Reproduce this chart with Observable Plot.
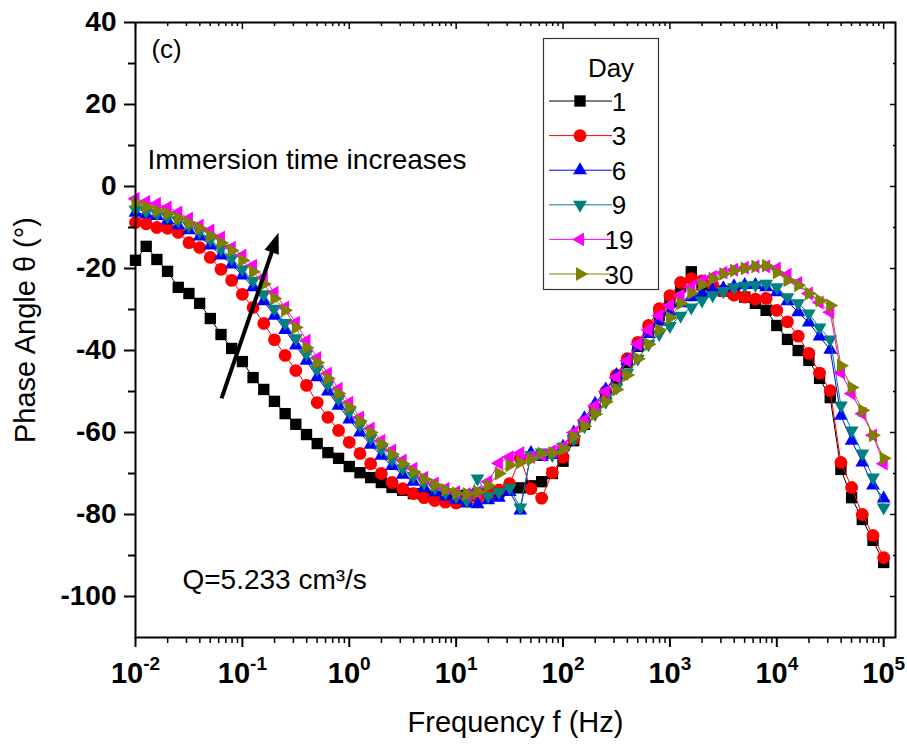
<!DOCTYPE html>
<html><head><meta charset="utf-8">
<script src="https://cdn.jsdelivr.net/npm/d3@7"></script>
<script src="https://cdn.jsdelivr.net/npm/@observablehq/plot@0.6"></script>
<style>
html,body{margin:0;padding:0;background:#fff;}
#chart{position:relative;width:907px;height:745px;}
</style></head><body><div id="chart"></div>
<script>
// ---------- data ----------
const freq = [0.01, 0.01259, 0.01585, 0.01995, 0.02512, 0.03162, 0.03981, 0.05012, 0.0631, 0.07943,
  0.1, 0.1259, 0.1585, 0.1995, 0.2512, 0.3162, 0.3981, 0.5012, 0.631, 0.7943,
  1, 1.259, 1.585, 1.995, 2.512, 3.162, 3.981, 5.012, 6.31, 7.943,
  10, 12.59, 15.85, 19.95, 25.12, 31.62, 39.81, 50.12, 63.1, 79.43,
  100, 125.9, 158.5, 199.5, 251.2, 316.2, 398.1, 501.2, 631, 794.3,
  1000, 1259, 1585, 1995, 2512, 3162, 3981, 5012, 6310, 7943,
  10000, 12590, 15850, 19950, 25120, 31620, 39810, 50120, 63100, 79430, 100000];

const day1 = [-18, -14.6, -17.8, -20.7, -24.6, -26.1, -28.5, -32.2, -36.1, -39.5, -42.7,
  -46.6, -49.5, -52.4, -55.4, -58.0, -60.5, -62.7, -64.9, -66.3, -68.3,
  -69.8, -71.0, -72.2, -73.4, -74.1, -74.9, -75.1, -75.6, -75.8, -75.5,
  -75.3, -75.0, -74.8, -74.5, -74.0, -73.5, -73.0, -72.0, -70.0, -67.0,
  -62.0, -58.0, -54.5, -51.0, -47.0, -43.0, -39.0, -35.0, -31.5, -28.0,
  -24.5, -20.8, -24.0, -25.0, -25.5, -26.0, -27.0, -28.5, -30.2, -33.9,
  -37.3, -40.0, -42.4, -46.8, -51.5, -69.0, -75.9, -81.2, -86.3, -91.7];

const day3 = [-8.8, -9.1, -10.0, -10.2, -11.2, -13.7, -14.9, -17.3, -20.2, -22.9, -26.3,
  -29.5, -33.4, -37.4, -41.2, -44.9, -48.5, -52.7, -56.3, -59.5, -62.4,
  -65.1, -67.6, -70.0, -72.2, -73.7, -74.9, -75.9, -76.6, -77.0, -77.2,
  -76.5, -75.8, -75.0, -74.0, -72.5, -66.3, -73.7, -76.0, -69.8, -66.0,
  -61.5, -57.5, -54.0, -50.0, -46.0, -42.0, -38.0, -33.9, -29.8, -26.6,
  -23.4, -22.5, -23.0, -24.0, -25.5, -26.5, -27.0, -27.5, -27.3, -30.2,
  -33.0, -36.5, -40.7, -45.5, -49.8, -67.3, -73.4, -80.0, -85.1, -90.5];

const day6 = [-6.4, -6.8, -7.2, -8.3, -9.5, -10.7, -12.2, -14.4, -16.8, -19.0, -21.7,
  -24.6, -28.0, -31.5, -35.0, -38.8, -42.5, -46.5, -50.0, -53.5, -56.8,
  -60.0, -63.0, -65.7, -68.2, -70.3, -72.0, -73.4, -74.6, -75.6, -76.4,
  -77.3, -77.5, -76.5, -75.9, -74.5, -79.0, -65.0, -66.0, -65.5, -63.5,
  -60.0, -56.5, -53.0, -49.5, -46.0, -42.5, -39.0, -36.0, -33.0, -30.5,
  -28.5, -27.0, -26.0, -25.3, -24.8, -24.3, -24.0, -24.0, -24.6, -25.8,
  -28.0, -30.7, -33.2, -36.6, -39.8, -55.9, -62.0, -67.3, -72.9, -76.1];

const day9 = [-5.6, -6.0, -6.5, -7.3, -8.3, -9.5, -10.9, -12.9, -15.2, -17.5, -20.2,
  -23.0, -26.3, -29.8, -33.3, -37.0, -40.8, -44.6, -48.3, -51.8, -55.0,
  -58.2, -61.3, -64.0, -66.6, -68.8, -70.6, -72.2, -73.5, -74.6, -75.5,
  -76.6, -71.2, -75.5, -74.5, -73.5, -78.3, -65.5, -64.9, -65.5, -63.5,
  -61.5, -58.5, -55.5, -52.5, -49.0, -45.5, -42.0, -38.5, -36.0, -34.0,
  -31.5, -29.5, -27.8, -26.5, -25.5, -24.6, -24.2, -24.0, -23.7, -24.6,
  -27.0, -28.5, -31.0, -34.4, -37.3, -53.4, -59.5, -65.1, -71.0, -78.3];

const day19 = [-3.0, -3.7, -4.2, -5.1, -6.3, -7.8, -9.5, -10.7, -12.4, -14.9, -16.8,
  -19.3, -22.2, -25.9, -29.5, -33.2, -37.6, -41.8, -45.6, -49.3, -52.7,
  -56.3, -59.0, -62.0, -64.4, -66.8, -68.8, -71.0, -72.4, -73.7, -74.5,
  -75.0, -74.5, -72.0, -67.5, -66.0, -65.0, -66.0, -65.5, -64.5, -63.5,
  -60.0, -57.0, -53.5, -50.0, -46.5, -42.5, -38.5, -35.0, -31.5, -29.0,
  -26.5, -24.5, -23.0, -22.0, -21.0, -20.3, -19.8, -19.5, -19.5, -20.0,
  -21.5, -23.5, -26.1, -28.3, -30.7, -45.4, -50.5, -55.4, -60.7, -67.6];

const day30 = [-4.1, -5.0, -5.9, -6.6, -7.8, -9.0, -10.2, -12.0, -13.7, -15.6, -18.0,
  -20.8, -23.8, -27.3, -30.2, -34.4, -39.3, -43.0, -46.8, -50.5, -53.8,
  -57.2, -60.0, -62.8, -65.3, -67.6, -69.6, -71.4, -72.8, -74.0, -74.8,
  -75.0, -74.5, -73.0, -70.0, -68.0, -67.3, -66.5, -65.1, -65.0, -64.0,
  -61.0, -58.5, -55.5, -52.5, -49.5, -46.0, -42.0, -38.5, -35.0, -32.0,
  -28.5, -26.0, -24.0, -22.5, -21.3, -20.5, -20.0, -19.5, -19.3, -21.0,
  -22.9, -24.1, -26.1, -27.8, -29.0, -43.7, -49.0, -54.6, -60.7, -66.3];

const days = ["1", "3", "6", "9", "19", "30"];
const seriesColors = ["#000000", "#ff0000", "#0000ff", "#008080", "#ff00ff", "#808000"];
const yTicks = [-100, -80, -60, -40, -20, 0, 20, 40];
const yMinorTicks = [-90, -70, -50, -30, -10, 10, 30];
const xTicks = [1e-2, 1e-1, 1e0, 1e1, 1e2, 1e3, 1e4, 1e5];
const xExponents = [-2, -1, 0, 1, 2, 3, 4, 5];
const xMinorTicks = xTicks.slice(0, -1).flatMap(d => [2, 3, 4, 5, 6, 7, 8, 9].map(m => m * d));

const annotations = [
  {f: 0.0141, theta: 33.3, label: "(c)", size: 26},
  {f: 0.01294, theta: 6.4, label: "Immersion time increases", size: 28},
  {f: 0.0275, theta: -96.0, label: "Q=5.233 cm\u00b3/s", size: 28}
];
const arrowStart = {f: 0.0638, theta: -51.7};
const arrowEnd = {f: 0.218, theta: -11.2};

// ---------- helpers ----------
const series = [day1, day3, day6, day9, day19, day30];
const fontFamily = '"Liberation Sans", Arial, Helvetica, sans-serif';
const markerR = 6.4;

function tri(angle) {
  return {
    draw(ctx, size) {
      const R = Math.sqrt(size / Math.PI) * 1.25;
      for (let k = 0; k < 3; k++) {
        const a = (angle + k * 120) * Math.PI / 180;
        const x = R * Math.sin(a), y = -R * Math.cos(a);
        if (k === 0) ctx.moveTo(x, y); else ctx.lineTo(x, y);
      }
      ctx.closePath();
    }
  };
}
const seriesSymbols = ["square", "circle", tri(0), tri(180), tri(270), tri(90)];

const layout = {
  width: 907, height: 745,
  marginLeft: 135, marginRight: 12, marginTop: 22, marginBottom: 108,
  x: {type: "log", domain: [0.01, 1.29e5]},
  y: {domain: [-110, 40]},
  style: {fontFamily, background: "white", color: "black", overflow: "visible"}
};

// probe pass to get pixel scales for the arrow head orientation
const probe = Plot.plot({...layout, marks: [Plot.dot([arrowStart, arrowEnd], {x: "f", y: "theta"})]});
const sx = probe.scale("x"), sy = probe.scale("y");
const p1 = [sx.apply(arrowStart.f), sy.apply(arrowStart.theta)];
const p2 = [sx.apply(arrowEnd.f), sy.apply(arrowEnd.theta)];
const len = Math.hypot(p2[0] - p1[0], p2[1] - p1[1]);
const ux = (p2[0] - p1[0]) / len, uy = (p2[1] - p1[1]) / len;
const headLen = 21, headHalf = 7.5;
const headSymbol = {
  draw(ctx) {
    ctx.moveTo(0, 0);
    ctx.lineTo(-ux * headLen - uy * headHalf, -uy * headLen + ux * headHalf);
    ctx.lineTo(-ux * headLen + uy * headHalf, -uy * headLen - ux * headHalf);
    ctx.closePath();
  }
};
const tt = 1 - 12 / len;
const shaftEnd = {
  f: 10 ** (Math.log10(arrowStart.f) + tt * (Math.log10(arrowEnd.f) - Math.log10(arrowStart.f))),
  theta: arrowStart.theta + tt * (arrowEnd.theta - arrowStart.theta)
};

const seriesMarks = series.flatMap((vals, s) => {
  const rows = freq.map((f, i) => ({f, theta: vals[i]}));
  return [
    Plot.line(rows, {x: "f", y: "theta", stroke: seriesColors[s], strokeWidth: 1}),
    Plot.dot(rows, {x: "f", y: "theta", fill: seriesColors[s], stroke: "none", r: markerR, symbol: seriesSymbols[s]})
  ];
});

const chart = Plot.plot({
  ...layout,
  marks: [
    ...seriesMarks,
    // axes
    Plot.axisY(yTicks, {anchor: "left", tickSize: 11, tickPadding: 8, strokeWidth: 2, fontSize: 28, fontWeight: "bold", label: null, tickFormat: d => String(d)}),
    Plot.axisY(yMinorTicks, {anchor: "left", tickSize: 7, strokeWidth: 2, label: null, tickFormat: () => ""}),
    Plot.axisY(yTicks, {anchor: "right", tickSize: -6, strokeWidth: 1.5, label: null, tickFormat: () => ""}),
    Plot.axisY(yMinorTicks, {anchor: "right", tickSize: -3, strokeWidth: 1.5, label: null, tickFormat: () => ""}),
    Plot.axisX(xTicks, {anchor: "bottom", tickSize: 10, tickPadding: 15, strokeWidth: 2, fontSize: 29, fontWeight: "bold", label: null, tickFormat: d => "10^" + xExponents[xTicks.indexOf(d)]}),
    Plot.axisX(xMinorTicks, {anchor: "bottom", tickSize: 6, strokeWidth: 1.5, label: null, tickFormat: () => ""}),
    Plot.axisX(xTicks, {anchor: "top", tickSize: -6, strokeWidth: 1.5, label: null, tickFormat: () => ""}),
    Plot.axisX(xMinorTicks, {anchor: "top", tickSize: -3, strokeWidth: 1.5, label: null, tickFormat: () => ""}),
    Plot.frame({stroke: "black", strokeWidth: 2}),
    // axis titles
    Plot.text(["Frequency f (Hz)"], {frameAnchor: "bottom", dy: 94, lineAnchor: "bottom", textAnchor: "middle", fontSize: 29, text: d => d}),
    Plot.text(["Phase Angle \u03b8 (\u00b0)"], {frameAnchor: "left", dx: -101, rotate: -90, lineAnchor: "bottom", textAnchor: "middle", fontSize: 29, text: d => d}),
    // annotations
    ...annotations.map(a => Plot.text([a], {x: "f", y: "theta", text: "label", textAnchor: "start", lineAnchor: "middle", fontSize: a.size})),
    Plot.link([{a: arrowStart, b: shaftEnd}], {x1: d => d.a.f, y1: d => d.a.theta, x2: d => d.b.f, y2: d => d.b.theta, stroke: "black", strokeWidth: 4}),
    Plot.dot([arrowEnd], {x: "f", y: "theta", symbol: headSymbol, fill: "black", stroke: "none", r: 1})
  ]
});

document.getElementById("chart").appendChild(chart);

// superscript exponents on x tick labels
d3.select(chart).selectAll("text").each(function() {
  const t = this.textContent;
  const m = /^10\^(-?\d+)$/.exec(t);
  if (!m) return;
  const sel = d3.select(this);
  sel.text(null);
  sel.append("tspan").text("10");
  sel.append("tspan").attr("font-size", 19).attr("dy", -13).text(m[1]);
});

// legend (inside the plot frame, upper middle)
const lg = d3.select(chart).append("g").attr("font-family", fontFamily).attr("fill", "black");
lg.append("rect").attr("x", 543.5).attr("y", 38.5).attr("width", 115).attr("height", 251)
  .attr("fill", "none").attr("stroke", "#333").attr("stroke-width", 1.2);
lg.append("text").attr("x", 611).attr("y", 77).attr("font-size", 26).text("Day");
days.forEach((d, s) => {
  const cy = 101 + s * 34.6;
  lg.append("line").attr("x1", 549).attr("x2", 612).attr("y1", cy).attr("y2", cy)
    .attr("stroke", seriesColors[s]).attr("stroke-width", 1);
  const sym = seriesSymbols[s] === "square" ? d3.symbolSquare : seriesSymbols[s] === "circle" ? d3.symbolCircle : seriesSymbols[s];
  lg.append("path").attr("transform", `translate(580,${cy})`)
    .attr("d", d3.symbol(sym, markerR * markerR * Math.PI)())
    .attr("fill", seriesColors[s]);
  lg.append("text").attr("x", 619).attr("y", cy + 9.5).attr("font-size", 26).text(d);
});
</script>
</body></html>
